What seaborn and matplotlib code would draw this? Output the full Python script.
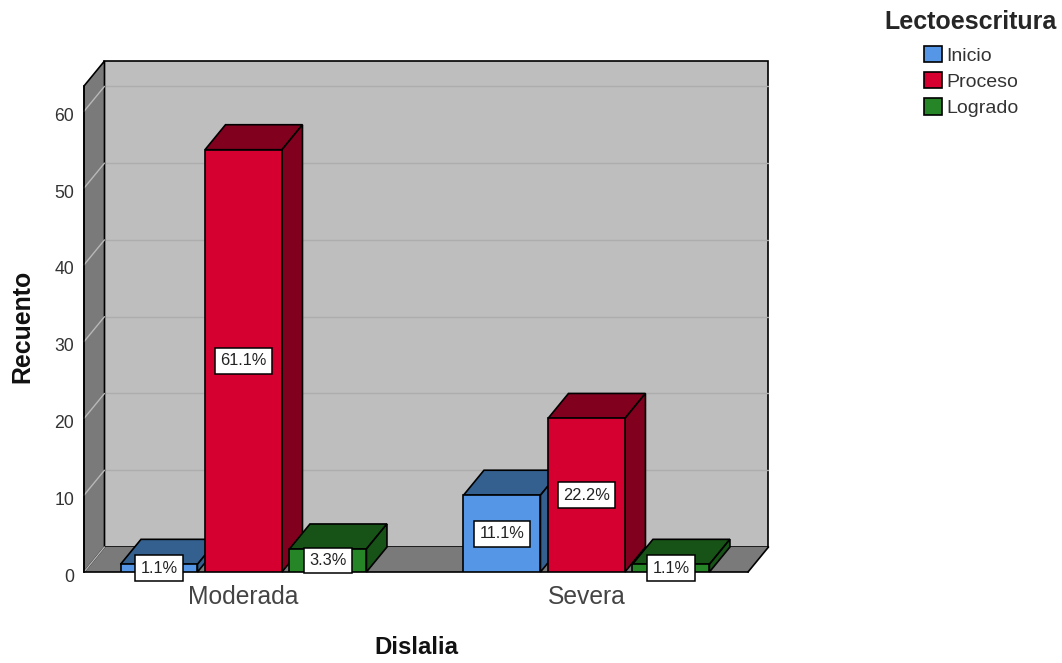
import matplotlib
matplotlib.use('Agg')
import matplotlib.pyplot as plt
from matplotlib.patches import Polygon
from matplotlib.transforms import ScaledTranslation
import pandas as pd
import seaborn as sns

# values
dislalia = ['Moderada', 'Moderada', 'Moderada', 'Severa', 'Severa', 'Severa']
lecto = ['Inicio', 'Proceso', 'Logrado', 'Inicio', 'Proceso', 'Logrado']
recuento = [1, 55, 3, 10, 20, 1]
porcentaje = ['1.1%', '61.1%', '3.3%', '11.1%', '22.2%', '1.1%']
yticks = [0, 10, 20, 30, 40, 50, 60]

front = ['#5596E6', '#D60030', '#268526']
dark = ['#34608F', '#80001E', '#175317']

df = pd.DataFrame({'Dislalia': dislalia, 'Lectoescritura': lecto, 'Recuento': recuento})

sns.set_style('white')
plt.rcParams['font.family'] = ['Liberation Sans', 'DejaVu Sans']

W, H = 1062, 663
fig = plt.figure(figsize=(W / 100, H / 100), dpi=100)
ax = fig.add_axes([84 / W, 1 - 572 / H, 664 / W, 486 / H])

sns.barplot(data=df, x='Dislalia', y='Recuento', hue='Lectoescritura',
            palette=front, width=0.739, gap=0.089, saturation=1,
            edgecolor='black', linewidth=1.2, ax=ax, zorder=5)

ax.set_xlim(-0.465, 1.471)
ax.set_ylim(0, 63.3)
ax.set_yticks(yticks)
ax.tick_params(axis='y', length=0, pad=7, labelsize=12.7, labelcolor='#333333')
ax.tick_params(axis='x', length=0, pad=9, labelsize=17.7, labelcolor='#444444')
ax.patch.set_visible(False)
for s in ['top', 'right']:
    ax.spines[s].set_visible(False)
for s in ['left', 'bottom']:
    ax.spines[s].set_color('black')
    ax.spines[s].set_linewidth(1.2)
    ax.spines[s].set_zorder(2)

# y labels sit a little under their tick on the wall
down = ScaledTranslation(0, -3 / 100, fig.dpi_scale_trans)
for lab in ax.get_yticklabels():
    lab.set_transform(lab.get_transform() + down)

# depth of the fake 3D box, in data units
dx = 20.5 / 343
dy = 25 / 7.68
x0, x1 = ax.get_xlim()
y0, y1 = ax.get_ylim()


def face(pts, color, z, edge='black', lw=1.2):
    ax.add_patch(Polygon(pts, closed=True, facecolor=color, edgecolor=edge,
                         linewidth=lw, zorder=z, clip_on=False))


# back wall, floor, left wall
face([(x0 + dx, y0 + dy), (x1 + dx, y0 + dy), (x1 + dx, y1 + dy), (x0 + dx, y1 + dy)], '#BEBEBE', 0.5)
face([(x0, y0), (x1, y0), (x1 + dx, y0 + dy), (x0 + dx, y0 + dy)], '#7A7A7A', 0.7, edge='none')
ax.plot([x1, x1 + dx], [y0, y0 + dy], color='black', lw=1.2, zorder=0.9, clip_on=False)
face([(x0, y0), (x0 + dx, y0 + dy), (x0 + dx, y1 + dy), (x0, y1)], '#7A7A7A', 0.8)

for t in yticks:
    if t > 0:
        ax.plot([x0 + dx, x1 + dx], [t + dy, t + dy], color='#ADADAD', lw=1, zorder=0.6, clip_on=False)
    ax.plot([x0, x0 + dx], [t, t + dy], color='#B8B8B8', lw=1, zorder=0.85, clip_on=False)

# bar depth faces, stacked left to right so nearer bars cover the previous one
bars = []
for i, cont in enumerate(ax.containers):
    for p in cont.patches:
        bars.append((p, i))
bars.sort(key=lambda b: b[0].get_x())

for n, (p, i) in enumerate(bars):
    z = 3 + n
    bx, bw, bh = p.get_x(), p.get_width(), p.get_height()
    face([(bx, bh), (bx + bw, bh), (bx + bw + dx, bh + dy), (bx + dx, bh + dy)], dark[i], z)
    face([(bx + bw, 0), (bx + bw + dx, dy), (bx + bw + dx, bh + dy), (bx + bw, bh)], dark[i], z)
    p.set_zorder(z + 0.5)

# percentage boxes, looked up by the bar they belong to
for cont, name in zip(ax.containers, lecto[:3]):
    for p, cat in zip(cont.patches, ['Moderada', 'Severa']):
        k = [j for j in range(len(recuento)) if dislalia[j] == cat and lecto[j] == name][0]
        ax.text(p.get_x() + p.get_width() / 2, p.get_height() / 2, porcentaje[k],
                ha='center', va='center', fontsize=11.8, color='#222222', zorder=20,
                bbox=dict(boxstyle='square,pad=0.33', facecolor='white', edgecolor='black', linewidth=1.1))

ax.set_xlabel('Dislalia', fontsize=17.3, fontweight='bold', color='#111111')
ax.set_ylabel('Recuento', fontsize=17.9, fontweight='bold', color='#111111')
ax.xaxis.set_label_coords(0.5, -0.132)
ax.yaxis.set_label_coords(-0.074, 0.506)

sns.move_legend(ax, 'upper left', bbox_to_anchor=(879 / W, 1 - 4 / H),
                bbox_transform=fig.transFigure, frameon=False,
                title='Lectoescritura', title_fontproperties={'weight': 'bold', 'size': 18},
                fontsize=14, handlelength=0.95, handleheight=0.95, handletextpad=0.2,
                labelspacing=0.36, labelcolor='#333333', borderpad=0.3, borderaxespad=0)
ax.get_legend()._legend_box.sep = 8.5

fig.savefig('out.png', dpi=100)
